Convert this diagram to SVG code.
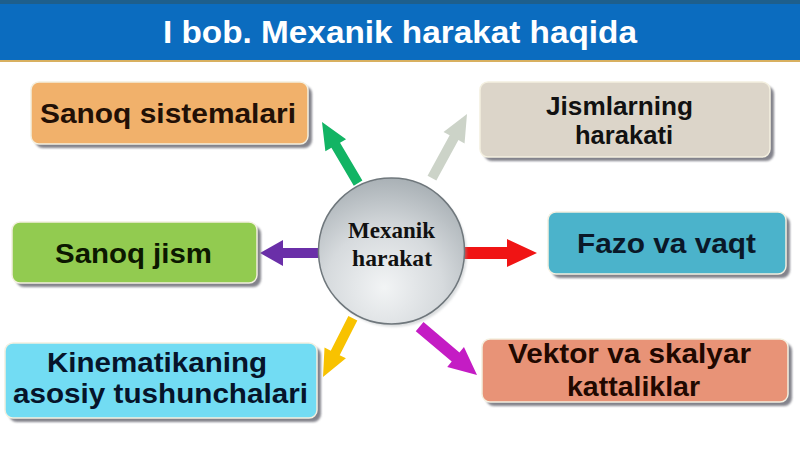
<svg xmlns="http://www.w3.org/2000/svg" width="800" height="460" viewBox="0 0 800 460">
<style>
.box{stroke:#f4f0e0;stroke-width:1.5}
.sh{fill:#6e6e78;opacity:0.85}
.lbl{font-family:"Liberation Sans",Arial,sans-serif;font-weight:bold;text-anchor:middle}
.ctr{font-family:"Liberation Serif","Times New Roman",serif;font-weight:bold;text-anchor:middle;fill:#111}
</style>
<defs>
<filter id="blur" x="-10%" y="-10%" width="120%" height="130%"><feGaussianBlur stdDeviation="1.2"/></filter>
<radialGradient id="cg" cx="0.45" cy="0.75" r="0.8">
<stop offset="0" stop-color="#f2f4f5"/>
<stop offset="0.5" stop-color="#d6dadd"/>
<stop offset="1" stop-color="#a3abb0"/>
</radialGradient>
</defs>
<rect x="0" y="0" width="800" height="460" fill="#ffffff"/>
<g id="title">
<rect x="0" y="0" width="800" height="61" fill="#0b6cbf"/>
<rect x="0" y="0" width="800" height="4" fill="#1e5f8c"/>
<rect x="0" y="60" width="800" height="2" fill="#d8b060"/>
<text x="400" y="43" font-family="'Liberation Sans',Arial,sans-serif" font-weight="bold" font-size="32" fill="#ffffff" text-anchor="middle" textLength="474" lengthAdjust="spacingAndGlyphs">I bob. Mexanik harakat haqida</text>
</g>
<g id="connectors">
<polygon fill="#12b464" transform="translate(322,122) rotate(-120.55)" points="-71,-5 -27,-5 -27,-12 0,0 -27,12 -27,5 -71,5"/>
<polygon fill="#c6cec2" opacity="0.9" transform="translate(467,114) rotate(-61.3)" points="-73,-5 -27,-5 -27,-12 0,0 -27,12 -27,5 -73,5"/>
<polygon fill="#6a2fa8" transform="translate(260,253) rotate(180)" points="-62,-5 -23,-5 -23,-13 0,0 -23,13 -23,5 -62,5"/>
<polygon fill="#f01414" transform="translate(537,253)" points="-74,-6 -30,-6 -30,-14 0,0 -30,14 -30,6 -74,6"/>
<polygon fill="#f8c200" transform="translate(323,377) rotate(116.9)" points="-66,-5 -27,-5 -27,-12 0,0 -27,12 -27,5 -66,5"/>
<polygon fill="#c41cc4" transform="translate(477,375) rotate(40.1)" points="-75,-6 -28,-6 -28,-13 0,0 -28,13 -28,6 -75,6"/>
</g>
<g id="center">
<circle cx="394" cy="254" r="73" fill="#9aa0a4" opacity="0.35" filter="url(#blur)"/>
<circle cx="391.5" cy="251" r="73" fill="url(#cg)" stroke="#6f777c" stroke-width="1.5"/>
<text class="ctr" x="391.5" y="238" font-size="22.5" textLength="87" lengthAdjust="spacingAndGlyphs">Mexanik</text>
<text class="ctr" x="392" y="266" font-size="22.5" textLength="80" lengthAdjust="spacingAndGlyphs">harakat</text>
</g>
<g id="n-sanoq-sistemalari">
<rect class="sh" x="35" y="86" width="277" height="62" rx="8" filter="url(#blur)"/>
<rect class="box" x="31" y="82" width="277" height="62" rx="8" fill="#f1b16b"/>
<text class="lbl" x="168" y="123" font-size="28" fill="#221006" textLength="256" lengthAdjust="spacingAndGlyphs">Sanoq sistemalari</text>
</g>
<g id="n-jismlarning">
<rect class="sh" x="484" y="86" width="290" height="75" rx="8" filter="url(#blur)"/>
<rect class="box" x="480" y="82" width="290" height="75" rx="8" fill="#dcd5c9"/>
<text class="lbl" x="619.5" y="115" font-size="26" fill="#111111" textLength="147" lengthAdjust="spacingAndGlyphs">Jismlarning</text>
<text class="lbl" x="624" y="144" font-size="26" fill="#111111" textLength="98" lengthAdjust="spacingAndGlyphs">harakati</text>
</g>
<g id="n-sanoq-jism">
<rect class="sh" x="16" y="226" width="245" height="61" rx="8" filter="url(#blur)"/>
<rect class="box" x="12" y="222" width="245" height="61" rx="8" fill="#92cb50"/>
<text class="lbl" x="133.5" y="263" font-size="28" fill="#0c1800" textLength="157" lengthAdjust="spacingAndGlyphs">Sanoq jism</text>
</g>
<g id="n-fazo">
<rect class="sh" x="552" y="216" width="238" height="62" rx="8" filter="url(#blur)"/>
<rect class="box" x="548" y="212" width="238" height="62" rx="8" fill="#4bb3cb"/>
<text class="lbl" x="666.5" y="253" font-size="28" fill="#0a1828" textLength="179" lengthAdjust="spacingAndGlyphs">Fazo va vaqt</text>
</g>
<g id="n-kinematika">
<rect class="sh" x="9" y="347" width="312" height="75" rx="8" filter="url(#blur)"/>
<rect class="box" x="5" y="343" width="312" height="75" rx="8" fill="#72dcf3"/>
<text class="lbl" x="157" y="372" font-size="28" fill="#06142a" textLength="220" lengthAdjust="spacingAndGlyphs">Kinematikaning</text>
<text class="lbl" x="160.5" y="403" font-size="28" fill="#06142a" textLength="295" lengthAdjust="spacingAndGlyphs">asosiy tushunchalari</text>
</g>
<g id="n-vektor">
<rect class="sh" x="486" y="343" width="306" height="63" rx="8" filter="url(#blur)"/>
<rect class="box" x="482" y="339" width="306" height="63" rx="8" fill="#e89377"/>
<text class="lbl" x="629.5" y="363" font-size="28" fill="#200800" textLength="243" lengthAdjust="spacingAndGlyphs">Vektor va skalyar</text>
<text class="lbl" x="633.5" y="396" font-size="28" fill="#200800" textLength="133" lengthAdjust="spacingAndGlyphs">kattaliklar</text>
</g>
</svg>
